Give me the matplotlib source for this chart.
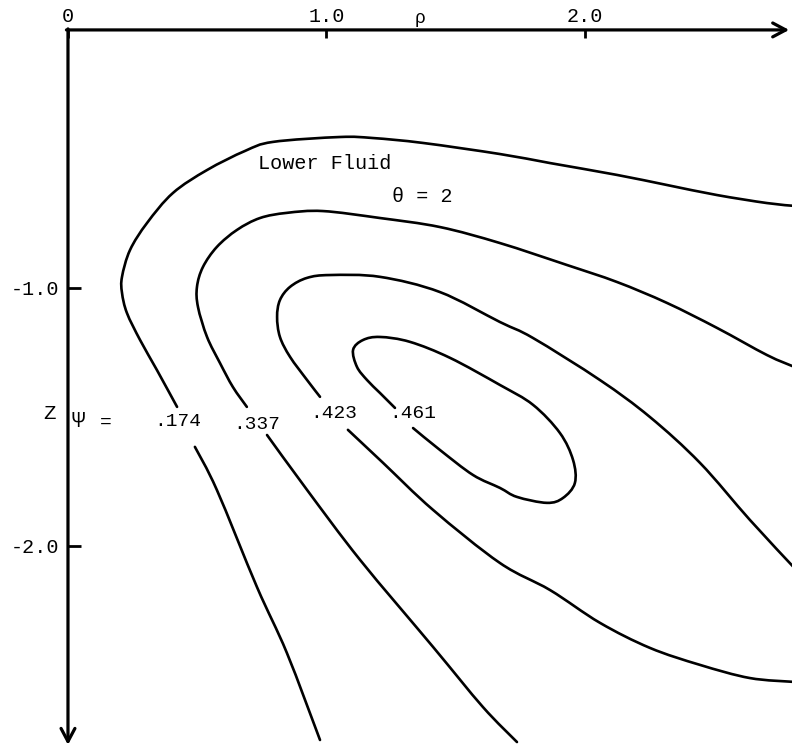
import matplotlib
matplotlib.use("Agg")
import matplotlib.pyplot as plt
from matplotlib.path import Path
from matplotlib.patches import PathPatch
import numpy as np

plt.rcParams['font.family'] = ['Liberation Mono', 'DejaVu Sans Mono']

# stream function contours (rho, z), split where the psi labels sit
psi174_a_r = [2.81, 2.704, 2.511, 2.317, 2.124, 1.865, 1.671, 1.373, 1.180, 1.052, 0.793, 0.685,
              0.538, 0.406, 0.306, 0.240, 0.209, 0.209, 0.228, 0.279, 0.344, 0.422]
psi174_a_z = [-0.682, -0.671, -0.640, -0.601, -0.562, -0.516, -0.481, -0.438, -0.419, -0.415, -0.434, -0.469,
              -0.543, -0.632, -0.748, -0.853, -0.957, -1.019, -1.097, -1.202, -1.318, -1.461]
psi174_b_r = [0.491, 0.576, 0.731, 0.847, 0.975]
psi174_b_z = [-1.616, -1.783, -2.159, -2.415, -2.752]

psi337_a_r = [2.81, 2.704, 2.511, 2.317, 2.124, 1.930, 1.671, 1.439, 1.207, 0.986, 0.847, 0.743,
              0.654, 0.576, 0.522, 0.499, 0.503, 0.538, 0.588, 0.638, 0.692]
psi337_a_z = [-1.306, -1.260, -1.155, -1.058, -0.977, -0.911, -0.826, -0.764, -0.729, -0.702, -0.709, -0.729,
              -0.775, -0.841, -0.919, -0.996, -1.074, -1.190, -1.291, -1.384, -1.461]
psi337_b_r = [0.770, 0.925, 1.130, 1.412, 1.605, 1.737]
psi337_b_z = [-1.570, -1.783, -2.054, -2.391, -2.624, -2.760]

psi423_a_r = [2.81, 2.638, 2.445, 2.251, 2.058, 1.799, 1.671, 1.439, 1.207, 1.014, 0.925, 0.859,
              0.820, 0.809, 0.820, 0.859, 0.925, 0.975]
psi423_a_z = [-2.085, -1.899, -1.678, -1.500, -1.357, -1.194, -1.132, -1.016, -0.957, -0.950, -0.961, -0.996,
              -1.047, -1.112, -1.190, -1.267, -1.357, -1.422]
psi423_b_r = [1.083, 1.219, 1.412, 1.671, 1.865, 2.058, 2.251, 2.445, 2.638, 2.81]
psi423_b_z = [-1.550, -1.678, -1.860, -2.066, -2.171, -2.298, -2.395, -2.461, -2.512, -2.527]

psi461_r = [1.335, 1.439, 1.567, 1.671, 1.737, 1.853, 1.915, 1.961, 1.954, 1.903, 1.799, 1.671,
            1.478, 1.323, 1.207, 1.141, 1.103, 1.118, 1.157, 1.207, 1.265]
psi461_z = [-1.543, -1.628, -1.725, -1.775, -1.810, -1.833, -1.814, -1.756, -1.667, -1.562, -1.453, -1.376,
            -1.271, -1.209, -1.190, -1.202, -1.240, -1.306, -1.357, -1.407, -1.465]

psi_labels = ['.174', '.337', '.423', '.461']
psi_label_r = [0.426, 0.731, 1.029, 1.335]
psi_label_z = [-1.519, -1.531, -1.488, -1.488]

x_ticks = [0, 1, 2]
x_ticklabels = ['0', '1.0', '2.0']
y_ticks = [-1, -2]
y_ticklabels = ['-1.0', '-2.0']


def smooth_path(r, z):
    # bezier path through every read point (catmull-rom tangents), just for drawing
    p = np.column_stack([r, z])
    verts = [p[0]]
    codes = [Path.MOVETO]
    n = len(p)
    for i in range(n - 1):
        p0 = p[i - 1] if i > 0 else p[i]
        p3 = p[i + 2] if i + 2 < n else p[i + 1]
        c1 = p[i] + (p[i + 1] - p0) / 6
        c2 = p[i + 1] - (p3 - p[i]) / 6
        verts += [c1, c2, p[i + 1]]
        codes += [Path.CURVE4] * 3
    return Path(verts, codes)


fig = plt.figure(figsize=(7.92, 7.49), dpi=100)
ax = fig.add_axes([0, 0, 1, 1])
ax.set_xlim(-0.263, 2.801)
ax.set_ylim(-2.787, 0.116)

for r, z in [(psi174_a_r, psi174_a_z), (psi174_b_r, psi174_b_z),
             (psi337_a_r, psi337_a_z), (psi337_b_r, psi337_b_z),
             (psi423_a_r, psi423_a_z), (psi423_b_r, psi423_b_z),
             (psi461_r, psi461_z)]:
    ax.add_patch(PathPatch(smooth_path(r, z), facecolor='none', edgecolor='black',
                           lw=1.9, capstyle='round', joinstyle='round'))

# axes drawn as arrows from the origin
arrow = dict(arrowstyle='->, head_length=0.47, head_width=0.25', lw=2.3, color='black',
             mutation_scale=20, shrinkA=0, shrinkB=0)
ax.annotate('', xy=(2.79, 0), xytext=(-0.006, 0), arrowprops=arrow)
ax.annotate('', xy=(0, -2.771), xytext=(0, 0.004), arrowprops=arrow)

for side in ['right', 'bottom', 'top', 'left']:
    ax.spines[side].set_visible(False)
ax.spines['top'].set_position(('data', 0))
ax.spines['left'].set_position(('data', 0))

ax.xaxis.set_ticks_position('top')
ax.set_xticks(x_ticks)
ax.set_xticklabels(x_ticklabels)
ax.tick_params(axis='x', direction='in', length=6, width=2, pad=3, labelsize=14.5)
ax.set_yticks(y_ticks)
ax.set_yticklabels(y_ticklabels)
ax.tick_params(axis='y', direction='in', length=9.5, width=2, pad=6, labelsize=14.5)

ax.text(1.362, 0.012, 'ρ', fontsize=13, ha='center', va='bottom')
ax.text(-0.072, -1.486, 'Z', fontsize=15, ha='center', va='center')
ax.text(0.012, -1.519, 'Ψ', fontsize=16, ha='left', va='center')
ax.text(0.145, -1.519, '=', fontsize=14, ha='center', va='center')
for lab, r, z in zip(psi_labels, psi_label_r, psi_label_z):
    ax.text(r, z, lab, fontsize=14, ha='center', va='center')

ax.text(0.735, -0.516, 'Lower Fluid', fontsize=14.5, ha='left', va='center')
ax.text(1.253, -0.647, 'θ = 2', fontsize=14.5, ha='left', va='center')

fig.savefig('out.png', dpi=100)
